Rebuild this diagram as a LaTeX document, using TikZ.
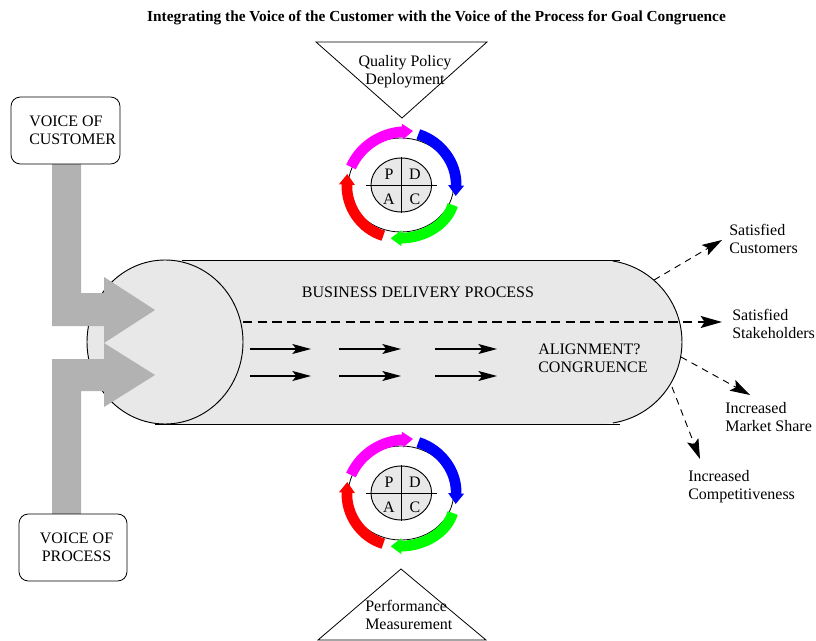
\documentclass[tikz,border=0pt]{standalone}
\usepackage{fontspec}
\setmainfont{Liberation Serif}
\usetikzlibrary{arrows.meta,shapes.geometric}
\definecolor{bodyfill}{HTML}{E8E8E8}
\definecolor{greyarrow}{HTML}{B2B2B2}
\definecolor{wheelm}{HTML}{FF00FF}
\definecolor{wheelb}{HTML}{0000FF}
\definecolor{wheelg}{HTML}{00FF00}
\definecolor{wheelr}{HTML}{FF0000}
\tikzset{
  lbl/.style={font=\fontsize{12pt}{13.5pt}\selectfont,align=left,inner sep=0pt},
  ctr/.style={font=\fontsize{12pt}{13.5pt}\selectfont,align=center,inner sep=0pt},
  voicebox/.style={draw,fill=white,rounded corners=7pt,line width=0.6pt},
  tri/.style={draw,fill=white,line width=0.6pt},
  solidarrow/.style={line width=0.8pt,-{Stealth[length=14pt,width=7.5pt,inset=3pt]}},
  dasharrow/.style={line width=0.7pt,dash pattern=on 5pt off 4pt,-{Stealth[length=15pt,width=9pt,inset=3pt]}},
  mainarrow/.style={line width=1.3pt,dash pattern=on 7pt off 4pt,-{Stealth[length=16pt,width=9pt,inset=3pt]}},
  band/.style={line width=8pt,-{Triangle[length=8pt,width=11.5pt]}},
  greyshape/.style={fill=greyarrow,draw=none}
}
\begin{document}
\begin{tikzpicture}[x=0.75pt,y=-0.75pt]
\useasboundingbox (0,0) rectangle (816,641);
% title
\node[font=\bfseries\fontsize{11.5pt}{13pt}\selectfont,inner sep=0pt] (title) at (436.5,17.5) {Integrating the Voice of the Customer with the Voice of the Process for Goal Congruence};
% delivery process body
\fill[bodyfill] (165,260) -- (600,260) arc[start angle=-90,end angle=90,radius=82] -- (165,424) -- cycle;
\draw[line width=0.6pt] (182,260) -- (620,260);
\draw[line width=0.6pt] (155,424) -- (620,424);
\draw[line width=0.7pt] (612.8,261) arc[start angle=-81,end angle=81,radius=82];
\node[draw,fill=bodyfill,ellipse,minimum width=117pt,minimum height=123pt,inner sep=0pt,line width=0.7pt] (leftcap) at (165,342) {};
% grey arrows
\path[greyshape] (52,163) -- (81,163) -- (81,293) -- (104,293) -- (104,277) -- (155,310) -- (104,343) -- (104,326) -- (52,326) -- cycle;
\path[greyshape] (52,514) -- (81,514) -- (81,391) -- (104,391) -- (104,407) -- (155,375) -- (104,343) -- (104,359) -- (52,359) -- cycle;
% voice boxes
\draw[voicebox] (11,97) rectangle (120,164);
\node[lbl,anchor=west] (voc) at (29,130) {\hspace{0pt}VOICE OF\\CUSTOMER};
\draw[voicebox] (19,514) rectangle (127,581);
\node[ctr] (vop) at (76.5,547) {VOICE OF\\PROCESS};
% triangles
\draw[tri] (316,42) -- (487,42) -- (402,118) -- cycle;
\node[ctr] (qpd) at (405,72) {Quality Policy\\Deployment};
\draw[tri] (401,569) -- (486,640) -- (318,640) -- cycle;
\node[lbl,anchor=west] (pm) at (365,615) {Performance\\Measurement};
% PDCA wheels
\foreach \dy in {0,308}{
\begin{scope}[shift={(0,\dy)}]
  \node[draw,ellipse,minimum width=79pt,minimum height=70.5pt,inner sep=0pt,line width=0.6pt] (ring\dy) at (401,185) {};
  \node[draw,fill=bodyfill,ellipse,minimum width=45.5pt,minimum height=40.5pt,inner sep=0pt,line width=0.7pt] (hub\dy) at (401.3,185) {};
  \coordinate (hl\dy) at (366,185); \coordinate (hr\dy) at (437,185);
  \coordinate (vt\dy) at (401.3,157); \coordinate (vb\dy) at (401.3,213);
  \draw[line width=0.6pt] (hl\dy) -- (hr\dy);
  \draw[line width=0.6pt] (vt\dy) -- (vb\dy);
  \node[ctr] (p\dy) at (389,174) {P};
  \node[ctr] (d\dy) at (415,174) {D};
  \node[ctr] (a\dy) at (389,199) {A};
  \node[ctr] (c\dy) at (415,199) {C};
  \draw[band,wheelm] (351,167) .. controls (361,145) and (382,133) .. (413,131);
  \draw[band,wheelb] (418.3,134.3) .. controls (442,142) and (457,164) .. (455.7,196);
  \draw[band,wheelg] (452.7,205) .. controls (447,224) and (425,238) .. (390.7,238.3);
  \draw[band,wheelr] (383.3,235.7) .. controls (361,229) and (346,207) .. (347.3,174);
\end{scope}}
% inner arrows
\foreach \yy in {349,376}{
  \coordinate (a1\yy) at (250,\yy); \coordinate (b1\yy) at (311,\yy);
  \coordinate (a2\yy) at (339,\yy); \coordinate (b2\yy) at (401,\yy);
  \coordinate (a3\yy) at (435,\yy); \coordinate (b3\yy) at (497,\yy);
  \draw[solidarrow] (a1\yy) -- (b1\yy);
  \draw[solidarrow] (a2\yy) -- (b2\yy);
  \draw[solidarrow] (a3\yy) -- (b3\yy);
}
% texts in body
\node[ctr] (bdp) at (418,292) {BUSINESS DELIVERY PROCESS};
\node[lbl,anchor=west] (align) at (538,358) {ALIGNMENT?\\CONGRUENCE};
% outcomes
\node[lbl,anchor=west] (sc) at (729,239) {Satisfied\\Customers};
\node[lbl,anchor=west] (ss) at (732,324) {Satisfied\\Stakeholders};
\node[lbl,anchor=west] (ms) at (725,417) {Increased\\Market Share};
\node[lbl,anchor=west] (ic) at (688,487) {Increased\\Competitiveness};
\coordinate (s0) at (243,322); \coordinate (t0) at (722,322);
\coordinate (s1) at (654,280); \coordinate (t1) at (722,240);
\coordinate (s2) at (681,357); \coordinate (t2) at (750,395);
\coordinate (s3) at (672,387); \coordinate (t3) at (700,459);
\draw[mainarrow] (s0) -- (t0);
\draw[dasharrow] (s1) -- (t1);
\draw[dasharrow] (s2) -- (t2);
\draw[dasharrow] (s3) -- (t3);
\end{tikzpicture}
\end{document}
